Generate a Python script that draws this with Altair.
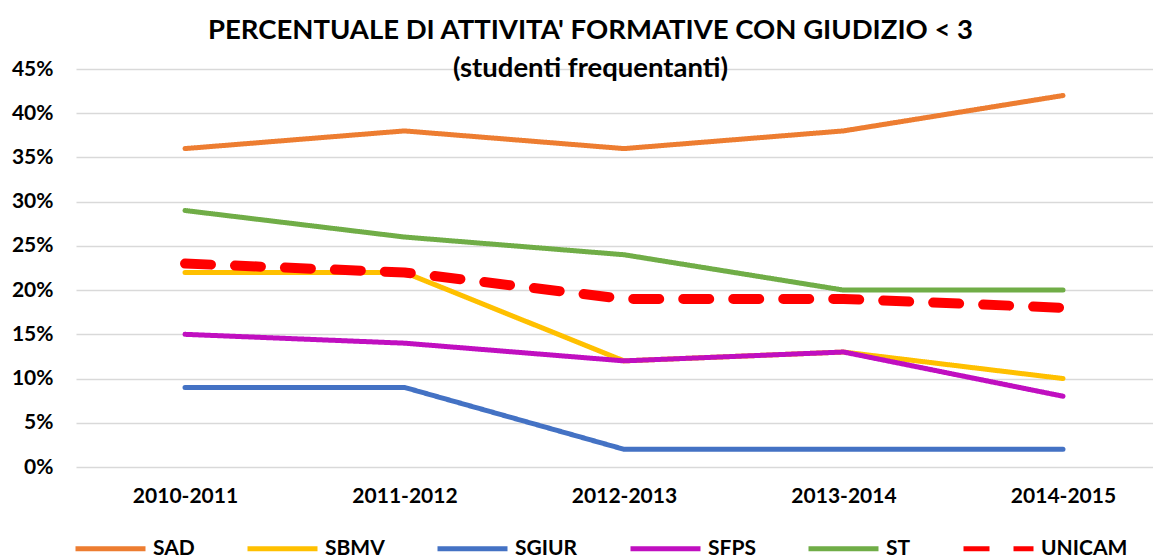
import altair as alt
import pandas as pd

years = ["2010-2011", "2011-2012", "2012-2013", "2013-2014", "2014-2015"]
series = ["SAD", "SBMV", "SGIUR", "SFPS", "ST", "UNICAM"]
SAD = [0.36, 0.38, 0.36, 0.38, 0.42]
SBMV = [0.22, 0.22, 0.12, 0.13, 0.10]
SGIUR = [0.09, 0.09, 0.02, 0.02, 0.02]
SFPS = [0.15, 0.14, 0.12, 0.13, 0.08]
ST = [0.29, 0.26, 0.24, 0.20, 0.20]
UNICAM = [0.23, 0.22, 0.19, 0.19, 0.18]
colors = ["#ED7D31", "#FFC000", "#4472C4", "#C00FC0", "#70AD47", "#FF0000"]

values = {"SAD": SAD, "SBMV": SBMV, "SGIUR": SGIUR, "SFPS": SFPS, "ST": ST, "UNICAM": UNICAM}
rows = []
for si, s in enumerate(series):
    for yi, yr in enumerate(years):
        rows.append({"anno": yr, "idx": yi, "serie": s, "valore": values[s][yi]})
df = pd.DataFrame(rows)

FONT = "Lato"
label_expr = "[" + ",".join("'%s'" % y for y in years) + "][datum.value]"

chart = alt.Chart(df).mark_line(strokeCap="round", strokeJoin="round").encode(
    x=alt.X("idx:Q", title=None,
            scale=alt.Scale(domain=[-0.4966, 4.41], nice=False, zero=False),
            axis=alt.Axis(values=list(range(len(years))), labelExpr=label_expr,
                          labelAngle=0, domain=False, ticks=False, grid=False,
                          labelFont=FONT, labelFontSize=21, labelFontWeight="bold",
                          labelColor="#000000", labelPadding=18, labelFlush=False,
                          labelOverlap=False)),
    y=alt.Y("valore:Q", title=None,
            scale=alt.Scale(domain=[0, 0.45], nice=False),
            axis=alt.Axis(format=".0%", values=[0, 0.05, 0.1, 0.15, 0.2, 0.25, 0.3, 0.35, 0.4, 0.45],
                          domain=False, ticks=False, gridColor="#D9D9D9", gridWidth=1.5,
                          labelFont=FONT, labelFontSize=21, labelFontWeight="bold",
                          labelColor="#000000", labelPadding=23)),
    color=alt.Color("serie:N", sort=series, title=None,
                    scale=alt.Scale(domain=series, range=colors),
                    legend=alt.Legend(orient="none", direction="horizontal", columns=6,
                                      legendX=-3, legendY=442, symbolType="stroke",
                                      symbolSize=4900, symbolStrokeWidth=5,
                                      labelFont=FONT, labelFontSize=21,
                                      labelFontWeight="bold", labelColor="#000000",
                                      labelOffset=5, columnPadding=42)),
    strokeDash=alt.StrokeDash("serie:N", sort=series, title=None,
                              scale=alt.Scale(domain=series,
                                              range=[[1, 0], [1, 0], [1, 0], [1, 0], [1, 0], [26, 24]])),
    strokeWidth=alt.condition("datum.serie == 'UNICAM'", alt.value(10), alt.value(5)),
    detail="serie:N",
    order="idx:Q",
).properties(
    width=1077,
    height=398,
    autosize=alt.AutoSizeParams(type="none"),
    padding={"left": 68, "top": 61, "right": 0, "bottom": 90},
    title=alt.Title(["PERCENTUALE DI ATTIVITA' FORMATIVE CON GIUDIZIO < 3", "(studenti frequentanti)"],
                    font=FONT, fontSize=27.5, fontWeight="bold", color="#000000",
                    anchor="middle", dx=-24, lineHeight=38, offset=-24),
).configure_view(stroke=None)

chart.save("out.html", embed_options={"renderer": "svg", "actions": False})
